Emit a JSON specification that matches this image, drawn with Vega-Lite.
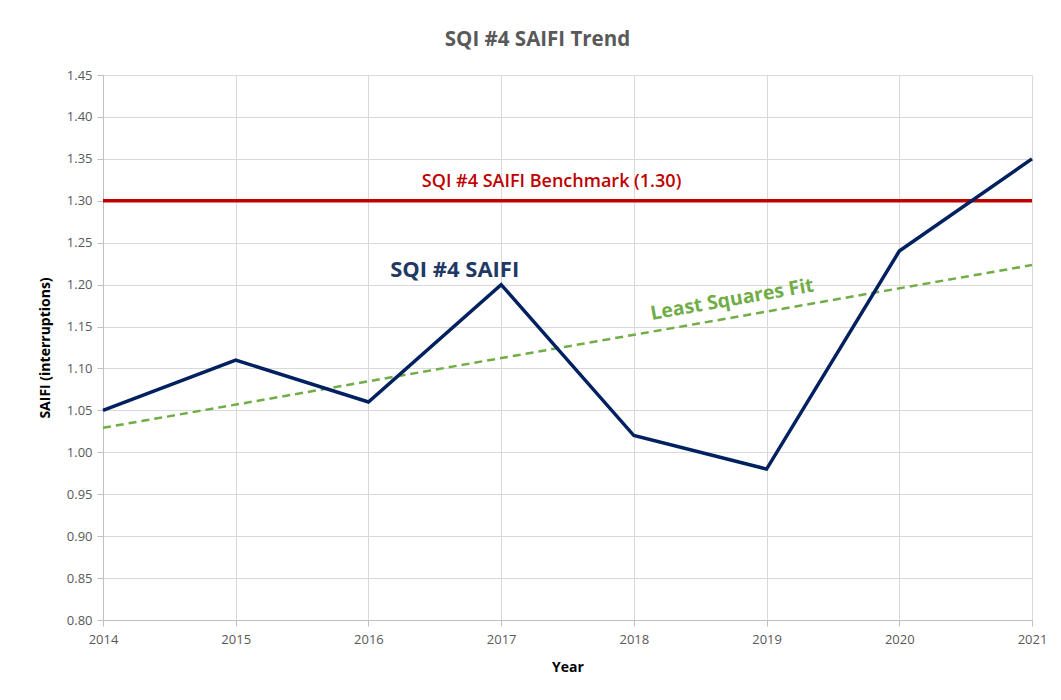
{
  "$schema": "https://vega.github.io/schema/vega-lite/v6.json",
  "width": 929,
  "height": 545,
  "autosize": {"type": "none"},
  "padding": {"left": 103, "top": 75, "right": 29, "bottom": 80},
  "background": "white",
  "config": {
    "view": {"stroke": null},
    "font": "Open Sans",
    "axis": {
      "labelFont": "Open Sans",
      "titleFont": "Open Sans",
      "labelColor": "#595959",
      "labelFontSize": 13,
      "gridColor": "#d9d9d9",
      "gridWidth": 1,
      "domainColor": "#bfbfbf",
      "tickColor": "#bfbfbf",
      "tickSize": 6,
      "titleColor": "#000000",
      "titleFontSize": 14,
      "titleFontWeight": "bold"
    }
  },
  "title": {
    "text": "SQI #4 SAIFI Trend",
    "font": "Open Sans",
    "fontSize": 20.5,
    "fontWeight": "bold",
    "color": "#595959",
    "anchor": "middle",
    "dx": -30,
    "offset": 19
  },
  "datasets": {
    "saifi": [
      {"year": 2014, "value": 1.05},
      {"year": 2015, "value": 1.11},
      {"year": 2016, "value": 1.06},
      {"year": 2017, "value": 1.20},
      {"year": 2018, "value": 1.02},
      {"year": 2019, "value": 0.98},
      {"year": 2020, "value": 1.24},
      {"year": 2021, "value": 1.35}
    ],
    "fit": [
      {"year": 2014, "value": 1.0292},
      {"year": 2021, "value": 1.2233}
    ],
    "bench": [
      {"year": 2014, "value": 1.30},
      {"year": 2021, "value": 1.30}
    ],
    "labels": [
      {"year": 2017.38, "value": 1.322, "label": "SQI #4 SAIFI Benchmark (1.30)", "kind": "bench"},
      {"year": 2016.65, "value": 1.217, "label": "SQI #4 SAIFI", "kind": "saifi"},
      {"year": 2018.74, "value": 1.182, "label": "Least Squares Fit", "kind": "fit"}
    ]
  },
  "encoding": {
    "x": {
      "field": "year",
      "type": "quantitative",
      "scale": {"domain": [2014, 2021], "nice": false, "zero": false},
      "axis": {
        "title": "Year",
        "values": [2014, 2015, 2016, 2017, 2018, 2019, 2020, 2021],
        "format": "d",
        "labelFlush": false,
        "labelPadding": 7,
        "titlePadding": 14
      }
    },
    "y": {
      "field": "value",
      "type": "quantitative",
      "scale": {"domain": [0.8, 1.45], "nice": false, "zero": false},
      "axis": {
        "title": "SAIFI (interruptions)",
        "values": [0.8, 0.85, 0.9, 0.95, 1.0, 1.05, 1.1, 1.15, 1.2, 1.25, 1.3, 1.35, 1.4, 1.45],
        "format": ".2f",
        "labelFlush": false,
        "labelPadding": 5,
        "titlePadding": 14
      }
    }
  },
  "layer": [
    {
      "data": {"name": "bench"},
      "mark": {"type": "line", "color": "#C00000", "strokeWidth": 3.5}
    },
    {
      "data": {"name": "fit"},
      "mark": {"type": "line", "color": "#70AD47", "strokeWidth": 2.5, "strokeDash": [8, 5]}
    },
    {
      "data": {"name": "saifi"},
      "mark": {"type": "line", "color": "#002060", "strokeWidth": 3.5, "strokeJoin": "miter"}
    },
    {
      "data": {"name": "labels"},
      "transform": [{"filter": "datum.kind == 'bench'"}],
      "mark": {"type": "text", "color": "#C00000", "fontSize": 18, "fontWeight": 600, "font": "Open Sans", "align": "center", "baseline": "middle"},
      "encoding": {"text": {"field": "label"}}
    },
    {
      "data": {"name": "labels"},
      "transform": [{"filter": "datum.kind == 'saifi'"}],
      "mark": {"type": "text", "color": "#1F3864", "fontSize": 22, "fontWeight": "bold", "font": "Open Sans", "align": "center", "baseline": "middle"},
      "encoding": {"text": {"field": "label"}}
    },
    {
      "data": {"name": "labels"},
      "transform": [{"filter": "datum.kind == 'fit'"}],
      "mark": {"type": "text", "color": "#70AD47", "fontSize": 19.5, "fontWeight": "bold", "font": "Open Sans", "align": "center", "baseline": "middle", "angle": 350},
      "encoding": {"text": {"field": "label"}}
    }
  ]
}
